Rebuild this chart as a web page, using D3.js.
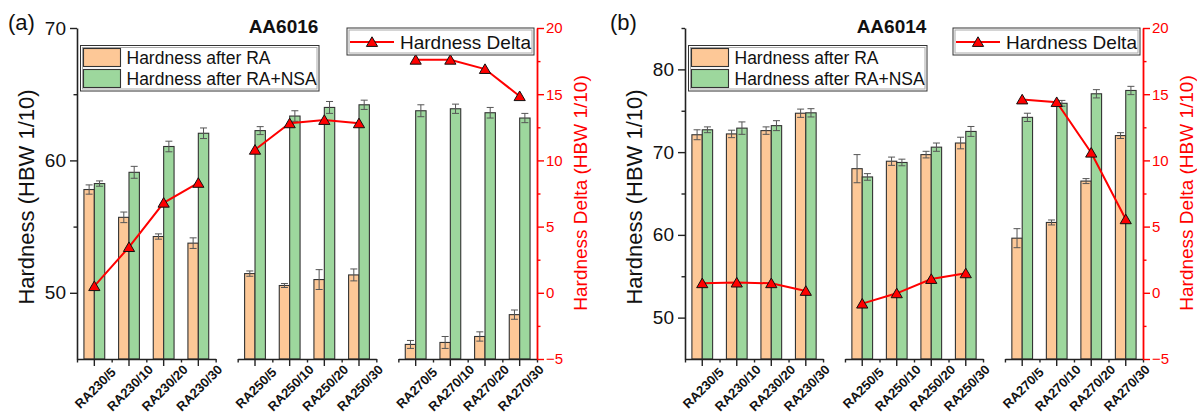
<!DOCTYPE html>
<html>
<head>
<meta charset="utf-8">
<script src="https://cdn.jsdelivr.net/npm/d3@7/dist/d3.min.js"></script>
<style>
  html, body { margin: 0; padding: 0; background: #fff; }
  svg { display: block; font-family: "Liberation Sans", Arial, sans-serif; }
</style>
</head>
<body>
<svg id="chart" width="1197" height="416"></svg>
<script>
// ---------------- DATA ----------------
const categories = ["RA230/5","RA230/10","RA230/20","RA230/30",
                    "RA250/5","RA250/10","RA250/20","RA250/30",
                    "RA270/5","RA270/10","RA270/20","RA270/30"];
const groups = ["RA230","RA250","RA270"];

// Panel (a) AA6016
const aRA       = [57.8, 55.7, 54.25, 53.75, 51.45, 50.55, 51.0, 51.35, 46.1, 46.25, 46.7, 48.35];
const aRAerr    = [0.35, 0.4, 0.2, 0.4, 0.2, 0.15, 0.75, 0.45, 0.3, 0.45, 0.35, 0.35];
const aNSA      = [58.25, 59.1, 61.05, 62.05, 62.25, 63.35, 64.0, 64.2, 63.75, 63.9, 63.6, 63.2];
const aNSAerr   = [0.2, 0.45, 0.4, 0.4, 0.3, 0.4, 0.45, 0.35, 0.45, 0.35, 0.4, 0.35];
const aDelta    = [0.5, 3.45, 6.8, 8.3, 10.8, 12.8, 13.05, 12.8, 17.6, 17.6, 16.9, 14.85];

// Panel (b) AA6014
const bRA       = [72.1, 72.2, 72.6, 74.7, 68.0, 68.9, 69.7, 71.1, 59.6, 61.5, 66.5, 72.0];
const bRAerr    = [0.6, 0.45, 0.45, 0.5, 1.7, 0.5, 0.4, 0.7, 1.15, 0.3, 0.3, 0.35];
const bNSA      = [72.7, 72.9, 73.2, 74.75, 67.0, 68.75, 70.6, 72.5, 74.2, 75.9, 77.05, 77.45];
const bNSAerr   = [0.35, 0.75, 0.6, 0.5, 0.4, 0.4, 0.5, 0.6, 0.5, 0.35, 0.5, 0.5];
const bDelta    = [0.72, 0.77, 0.72, 0.14, -0.82, -0.04, 1.04, 1.47, 14.6, 14.4, 10.58, 5.55];

const leftTicksA  = [50, 60, 70];
const leftMinorA  = [55, 65];
const leftTicksB  = [50, 60, 70, 80];
const leftMinorB  = [55, 65, 75, 85];
const rightTicks  = [-5, 0, 5, 10, 15, 20];
const rightMinor  = [-2.5, 2.5, 7.5, 12.5, 17.5];

const seriesNames = ["Hardness after RA", "Hardness after RA+NSA", "Hardness Delta"];
const leftTitle  = "Hardness (HBW 1/10)";
const rightTitle = "Hardness Delta (HBW 1/10)";

// ---------------- STYLE ----------------
const COL_RA  = "#FDC897";
const COL_NSA = "#9DD79D";
const RED     = "#FF0000";

const svg = d3.select("#chart");

function drawPanel(cfg) {
  const g = svg.append("g");
  const yTop = 28, yBot = 359;
  const yL = d3.scaleLinear().domain(cfg.leftDomain).range([yBot, yTop]);
  const yR = d3.scaleLinear().domain([-5, 20]).range([yBot, yTop]);
  const xG = d3.scaleBand().domain(groups).range([cfg.x0, cfg.x1]).paddingInner(0.137).paddingOuter(0);
  const bw = xG.bandwidth();
  const sub = d3.scaleBand().domain([0,1,2,3]).range([0, bw]);
  const d = sub.bandwidth();
  const cx = i => xG(groups[Math.floor(i/4)]) + sub(i % 4) + d/2;
  const barW = d * 0.3;

  // bars
  const rows = categories.map((c, i) => ({i, ra: cfg.ra[i], raE: cfg.raErr[i], nsa: cfg.nsa[i], nsaE: cfg.nsaErr[i], delta: cfg.delta[i]}));
  g.selectAll("rect.ra").data(rows).join("rect")
    .attr("x", r => cx(r.i) - barW).attr("width", barW)
    .attr("y", r => yL(r.ra)).attr("height", r => yBot - yL(r.ra))
    .attr("fill", COL_RA).attr("stroke", "#333").attr("stroke-width", 1.1);
  g.selectAll("rect.nsa").data(rows).join("rect")
    .attr("x", r => cx(r.i)).attr("width", barW)
    .attr("y", r => yL(r.nsa)).attr("height", r => yBot - yL(r.nsa))
    .attr("fill", COL_NSA).attr("stroke", "#333").attr("stroke-width", 1.1);

  // error bars
  const errs = [];
  rows.forEach(r => {
    errs.push({x: cx(r.i) - barW/2, v: r.ra, e: r.raE});
    errs.push({x: cx(r.i) + barW/2, v: r.nsa, e: r.nsaE});
  });
  const eg = g.append("g").attr("stroke", "#555").attr("stroke-width", 1);
  errs.forEach(e => {
    eg.append("line").attr("x1", e.x).attr("x2", e.x).attr("y1", yL(e.v - e.e)).attr("y2", yL(e.v + e.e));
    eg.append("line").attr("x1", e.x - 3.5).attr("x2", e.x + 3.5).attr("y1", yL(e.v + e.e)).attr("y2", yL(e.v + e.e));
    eg.append("line").attr("x1", e.x - 3.5).attr("x2", e.x + 3.5).attr("y1", yL(e.v - e.e)).attr("y2", yL(e.v - e.e));
  });

  // x axes per group
  groups.forEach((gr, gi) => {
    const gx = xG(gr);
    const band = d3.scaleBand().domain(categories.slice(gi*4, gi*4+4)).range([gx, gx + bw]);
    const lin = d3.scaleLinear().domain([0, 4]).range([gx, gx + bw]);
    const ax = g.append("g").attr("transform", `translate(0,${yBot})`)
      .call(d3.axisBottom(band).tickSize(7).tickSizeOuter(0).tickFormat(""));
    ax.select(".domain").attr("stroke", "#222").attr("stroke-width", 1.6);
    ax.selectAll(".tick line").attr("stroke", "#222").attr("stroke-width", 1.4);
    const mx = g.append("g").attr("transform", `translate(0,${yBot})`)
      .call(d3.axisBottom(lin).tickValues([0,1,2,3,4]).tickSize(3.5).tickFormat(""));
    mx.select(".domain").remove();
    mx.selectAll(".tick line").attr("stroke", "#222").attr("stroke-width", 1.4);
    // labels
    band.domain().forEach(c => {
      const x = band(c) + band.bandwidth()/2 + 1;
      g.append("text").attr("transform", `translate(${x},388) rotate(-45)`)
        .attr("text-anchor", "middle").attr("dominant-baseline", "central")
        .attr("font-size", 13).attr("font-weight", "bold").attr("fill", "#111").text(c);
    });
  });

  // left axis
  const la = g.append("g").attr("transform", `translate(${cfg.x0},0)`)
    .call(d3.axisLeft(yL).tickValues(cfg.leftTicks).tickSize(7).tickSizeOuter(0).tickPadding(4));
  la.select(".domain").attr("stroke", "#222").attr("stroke-width", 1.6);
  la.selectAll(".tick line").attr("stroke", "#222").attr("stroke-width", 1.4);
  la.selectAll(".tick text").attr("font-size", 19).attr("fill", "#111").attr("font-family", "Liberation Sans, Arial, sans-serif");
  const lm = g.append("g").attr("transform", `translate(${cfg.x0},0)`)
    .call(d3.axisLeft(yL).tickValues(cfg.leftMinor).tickSize(3.5).tickFormat(""));
  lm.select(".domain").remove();
  lm.selectAll(".tick line").attr("stroke", "#222").attr("stroke-width", 1.4);

  // right axis
  const ra = g.append("g").attr("transform", `translate(${cfg.x1},0)`)
    .call(d3.axisRight(yR).tickValues(rightTicks).tickSize(7).tickSizeOuter(0).tickPadding(2));
  ra.select(".domain").attr("stroke", RED).attr("stroke-width", 1.8);
  ra.selectAll(".tick line").attr("stroke", RED).attr("stroke-width", 1.4);
  ra.selectAll(".tick text").attr("font-size", 15).attr("fill", RED).attr("font-family", "Liberation Sans, Arial, sans-serif");
  const rm = g.append("g").attr("transform", `translate(${cfg.x1},0)`)
    .call(d3.axisRight(yR).tickValues(rightMinor).tickSize(3.5).tickFormat(""));
  rm.select(".domain").remove();
  rm.selectAll(".tick line").attr("stroke", RED).attr("stroke-width", 1.4);

  // delta line per group
  const line = d3.line().x(r => cx(r.i)).y(r => yR(r.delta));
  const tri = "M0,-5.2L5.6,4.4L-5.6,4.4Z";
  groups.forEach((gr, gi) => {
    const seg = rows.slice(gi*4, gi*4+4);
    g.append("path").datum(seg).attr("d", line).attr("fill", "none").attr("stroke", RED).attr("stroke-width", 2);
  });
  g.selectAll("path.mk").data(rows).join("path")
    .attr("transform", r => `translate(${cx(r.i)},${yR(r.delta)})`)
    .attr("d", tri).attr("fill", RED).attr("stroke", "#111").attr("stroke-width", 1);

  // axis titles
  g.append("text").attr("transform", `translate(${cfg.x0 - 51},197) rotate(-90)`)
    .attr("text-anchor", "middle").attr("dominant-baseline", "central")
    .attr("font-size", 22).attr("fill", "#111").text(leftTitle);
  g.append("text").attr("transform", `translate(${cfg.x1 + 43.5},193) rotate(-90)`)
    .attr("text-anchor", "middle").attr("dominant-baseline", "central")
    .attr("font-size", 19).attr("fill", RED).text(rightTitle);

  // panel label & title
  g.append("text").attr("x", cfg.labelX).attr("y", 30).attr("font-size", 22).attr("fill", "#111").text(cfg.label);
  g.append("text").attr("x", cfg.x0 + 206.5).attr("y", 33).attr("text-anchor", "middle")
    .attr("font-size", 19).attr("font-weight", "bold").attr("fill", "#111").text(cfg.title);

  // bars legend
  const L1 = g.append("g");
  const lx = cfg.x0 + 3.5, ly = 45.5;
  L1.append("rect").attr("x", lx).attr("y", ly).attr("width", 238.5).attr("height", 45.5)
    .attr("fill", "#fff").attr("stroke", "#333").attr("stroke-width", 1);
  L1.append("rect").attr("x", lx + 2).attr("y", ly + 2).attr("width", 234.5).attr("height", 41.5)
    .attr("fill", "none").attr("stroke", "#aaa").attr("stroke-width", 1);
  [[COL_RA, seriesNames[0], 48.5, 64], [COL_NSA, seriesNames[1], 69.5, 85]].forEach(([c, t, sy, by]) => {
    L1.append("rect").attr("x", cfg.x0 + 6.5).attr("y", sy).attr("width", 37).attr("height", 18)
      .attr("fill", c).attr("stroke", "#333").attr("stroke-width", 1.1);
    L1.append("text").attr("x", cfg.x0 + 49.5).attr("y", by).attr("font-size", 17.5).attr("fill", "#111").text(t);
  });

  // delta legend
  const L2 = g.append("g");
  const dx = cfg.x1 - 190;
  L2.append("rect").attr("x", dx).attr("y", 28).attr("width", 187).attr("height", 27)
    .attr("fill", "#fff").attr("stroke", "#333").attr("stroke-width", 1);
  L2.append("rect").attr("x", dx + 2).attr("y", 30).attr("width", 183).attr("height", 23)
    .attr("fill", "none").attr("stroke", "#aaa").attr("stroke-width", 1);
  L2.append("line").attr("x1", cfg.x1 - 187).attr("x2", cfg.x1 - 143).attr("y1", 42).attr("y2", 42)
    .attr("stroke", RED).attr("stroke-width", 2);
  L2.append("path").attr("transform", `translate(${cfg.x1 - 165},42)`).attr("d", tri)
    .attr("fill", RED).attr("stroke", "#111").attr("stroke-width", 1);
  L2.append("text").attr("x", cfg.x1 - 137).attr("y", 48.5).attr("font-size", 19).attr("fill", "#111").text(seriesNames[2]);
}

drawPanel({x0: 77, x1: 537, leftDomain: [45, 70], leftTicks: leftTicksA, leftMinor: leftMinorA,
  ra: aRA, raErr: aRAerr, nsa: aNSA, nsaErr: aNSAerr, delta: aDelta, label: "(a)", labelX: 8, title: "AA6016"});
drawPanel({x0: 685, x1: 1143, leftDomain: [45, 85], leftTicks: leftTicksB, leftMinor: leftMinorB,
  ra: bRA, raErr: bRAerr, nsa: bNSA, nsaErr: bNSAerr, delta: bDelta, label: "(b)", labelX: 610, title: "AA6014"});
</script>
</body>
</html>
